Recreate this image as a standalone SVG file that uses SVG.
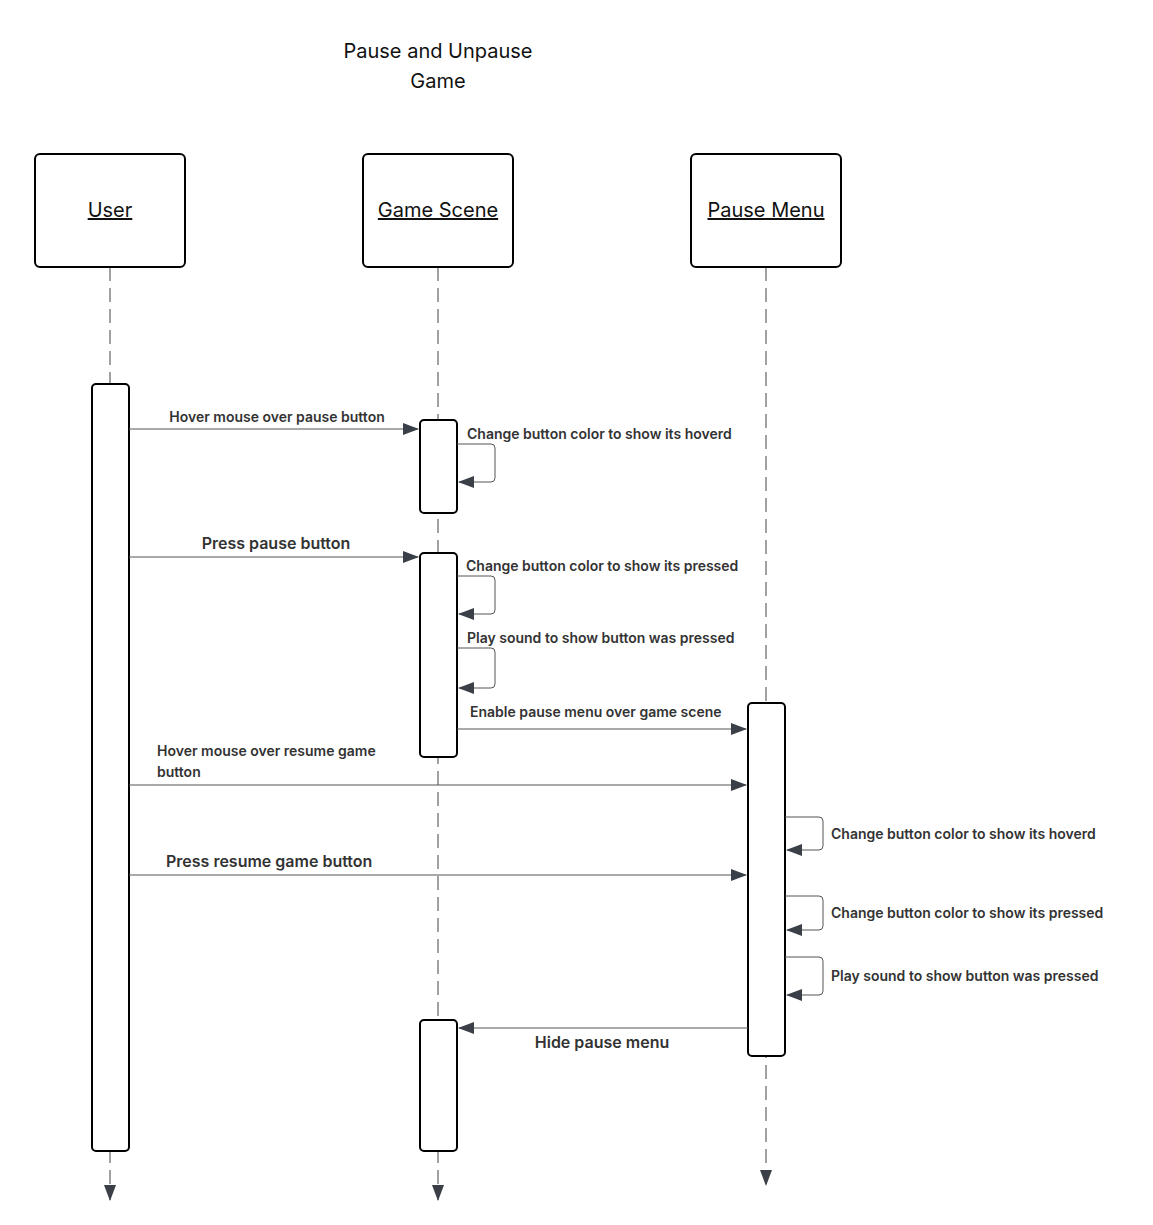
<svg xmlns="http://www.w3.org/2000/svg" width="1153" height="1225" viewBox="0 0 1153 1225">
<style>
text{font-family:Inter,"Liberation Sans",sans-serif;fill:#333}
.h{font-size:20px;text-decoration:underline;text-anchor:middle;fill:#111}
.t{font-size:20px;text-anchor:middle;fill:#111}
.m{font-size:14px;font-weight:600}
.b{font-size:16px;font-weight:600}
.box{fill:#fff;stroke:#000;stroke-width:2}
.life{stroke:#444;stroke-width:1;stroke-dasharray:14,7}
.msg{stroke:#555;stroke-width:1;fill:none}
</style>
<defs>
<marker id="a" markerWidth="16" markerHeight="12" refX="15" refY="6" orient="auto" markerUnits="userSpaceOnUse"><path d="M0,0L16,6L0,12z" fill="#3a3f48"/></marker>
</defs>
<text class="t" x="438" y="58">Pause and Unpause</text>
<text class="t" x="438" y="88">Game</text>
<g id="lifelines">
<line class="life" x1="110" y1="267" x2="110" y2="1200" marker-end="url(#a)"/>
<line class="life" x1="438" y1="267" x2="438" y2="1200" marker-end="url(#a)"/>
<line class="life" x1="766" y1="267" x2="766" y2="1185" marker-end="url(#a)"/>
</g>
<g id="user"><rect class="box" x="35" y="154" width="150" height="113" rx="5"/><text class="h" x="110" y="217">User</text></g>
<g id="game"><rect class="box" x="363" y="154" width="150" height="113" rx="5"/><text class="h" x="438" y="217">Game Scene</text></g>
<g id="pause"><rect class="box" x="691" y="154" width="150" height="113" rx="5"/><text class="h" x="766" y="217">Pause Menu</text></g>
<g id="activations">
<rect class="box" x="92" y="384" width="37" height="767" rx="4"/>
<rect class="box" x="420" y="420" width="37" height="93" rx="4"/>
<rect class="box" x="420" y="553" width="37" height="204" rx="4"/>
<rect class="box" x="420" y="1020" width="37" height="131" rx="4"/>
<rect class="box" x="748" y="703" width="37" height="353" rx="4"/>
</g>
<g id="connectors">
<line class="msg" x1="129" y1="429" x2="418" y2="429" marker-end="url(#a)"/>
<path class="msg" d="M457,444H491a4,4 0 0 1 4,4V478a4,4 0 0 1-4,4H459" marker-end="url(#a)"/>
<line class="msg" x1="129" y1="557" x2="418" y2="557" marker-end="url(#a)"/>
<path class="msg" d="M457,576H491a4,4 0 0 1 4,4V610a4,4 0 0 1-4,4H459" marker-end="url(#a)"/>
<path class="msg" d="M457,648H491a4,4 0 0 1 4,4V684a4,4 0 0 1-4,4H459" marker-end="url(#a)"/>
<line class="msg" x1="457" y1="729" x2="746" y2="729" marker-end="url(#a)"/>
<line class="msg" x1="129" y1="785" x2="746" y2="785" marker-end="url(#a)"/>
<path class="msg" d="M785,817H819a4,4 0 0 1 4,4V846a4,4 0 0 1-4,4H787" marker-end="url(#a)"/>
<line class="msg" x1="129" y1="875" x2="746" y2="875" marker-end="url(#a)"/>
<path class="msg" d="M785,896H819a4,4 0 0 1 4,4V926a4,4 0 0 1-4,4H787" marker-end="url(#a)"/>
<path class="msg" d="M785,957H819a4,4 0 0 1 4,4V991a4,4 0 0 1-4,4H787" marker-end="url(#a)"/>
<line class="msg" x1="748" y1="1028" x2="459" y2="1028" marker-end="url(#a)"/>
</g>
<g id="labels">
<text class="m" x="277" y="422" text-anchor="middle">Hover mouse over pause button</text>
<text class="m" x="467" y="439">Change button color to show its hoverd</text>
<text class="b" x="276" y="549" text-anchor="middle">Press pause button</text>
<text class="m" x="466" y="571">Change button color to show its pressed</text>
<text class="m" x="467" y="643">Play sound to show button was pressed</text>
<text class="m" x="470" y="717">Enable pause menu over game scene</text>
<text class="m" x="157" y="756">Hover mouse over resume game</text>
<text class="m" x="157" y="777">button</text>
<text class="m" x="831" y="839">Change button color to show its hoverd</text>
<text class="b" x="166" y="867">Press resume game button</text>
<text class="m" x="831" y="918">Change button color to show its pressed</text>
<text class="m" x="831" y="981">Play sound to show button was pressed</text>
<text class="b" x="602" y="1048" text-anchor="middle">Hide pause menu</text>
</g>
</svg>
